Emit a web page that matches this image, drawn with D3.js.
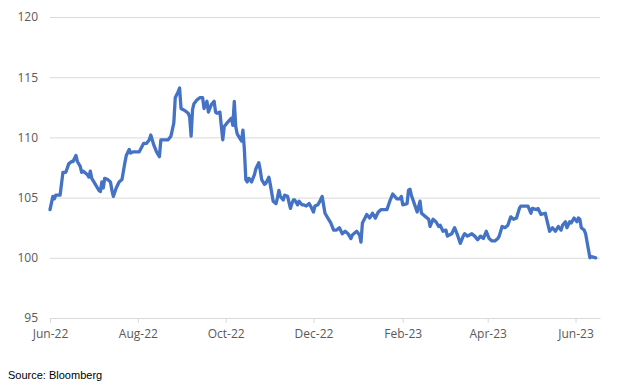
<!DOCTYPE html>
<html>
<head>
<meta charset="utf-8">
<script src="https://cdnjs.cloudflare.com/ajax/libs/d3/7.8.5/d3.min.js"></script>
<style>
  body { margin: 0; background: #fff; }
  svg { display: block; }
</style>
</head>
<body>
<svg id="chart"></svg>
<script>
// index level, daily-ish readings
const dates = [
  "2022-06-01","2022-06-03","2022-06-04","2022-06-05","2022-06-08","2022-06-10","2022-06-11","2022-06-12",
  "2022-06-14","2022-06-16","2022-06-17","2022-06-19","2022-06-20","2022-06-22","2022-06-23","2022-06-24",
  "2022-06-25","2022-06-27","2022-06-28","2022-06-29","2022-06-30","2022-07-02","2022-07-05","2022-07-06",
  "2022-07-07","2022-07-08","2022-07-09","2022-07-11","2022-07-13","2022-07-14","2022-07-15","2022-07-17",
  "2022-07-19","2022-07-21","2022-07-23","2022-07-24","2022-07-26","2022-07-27","2022-07-29","2022-07-31",
  "2022-08-02","2022-08-05","2022-08-07","2022-08-09","2022-08-10","2022-08-11","2022-08-12","2022-08-14",
  "2022-08-16","2022-08-17","2022-08-19","2022-08-22","2022-08-24","2022-08-26","2022-08-27","2022-08-29",
  "2022-08-30","2022-08-31","2022-09-03","2022-09-05","2022-09-06","2022-09-07","2022-09-08","2022-09-09",
  "2022-09-11","2022-09-13","2022-09-15","2022-09-16","2022-09-18","2022-09-19","2022-09-21","2022-09-23",
  "2022-09-24","2022-09-25","2022-09-27","2022-09-29","2022-09-30","2022-10-02","2022-10-05","2022-10-06",
  "2022-10-07","2022-10-08","2022-10-09","2022-10-11","2022-10-12","2022-10-13","2022-10-14","2022-10-15",
  "2022-10-16","2022-10-17","2022-10-18","2022-10-19","2022-10-21","2022-10-22","2022-10-24","2022-10-25",
  "2022-10-26","2022-10-28","2022-10-29","2022-10-31","2022-11-01","2022-11-03","2022-11-05","2022-11-06",
  "2022-11-07","2022-11-08","2022-11-10","2022-11-11","2022-11-13","2022-11-15","2022-11-16","2022-11-17",
  "2022-11-18","2022-11-20","2022-11-21","2022-11-23","2022-11-24","2022-11-26","2022-11-28","2022-11-29",
  "2022-12-01","2022-12-02","2022-12-04","2022-12-05","2022-12-07","2022-12-09","2022-12-11","2022-12-13",
  "2022-12-15","2022-12-17","2022-12-19","2022-12-21","2022-12-23","2022-12-25","2022-12-27","2022-12-28",
  "2022-12-31","2023-01-02","2023-01-03","2023-01-04","2023-01-07","2023-01-09","2023-01-11","2023-01-13",
  "2023-01-15","2023-01-17","2023-01-21","2023-01-23","2023-01-25","2023-01-28","2023-01-30","2023-01-31",
  "2023-02-01","2023-02-04","2023-02-05","2023-02-06","2023-02-07","2023-02-09","2023-02-11","2023-02-13",
  "2023-02-14","2023-02-17","2023-02-19","2023-02-20","2023-02-22","2023-02-24","2023-02-26","2023-02-27",
  "2023-03-01","2023-03-03","2023-03-04","2023-03-07","2023-03-09","2023-03-11","2023-03-13","2023-03-15",
  "2023-03-16","2023-03-18","2023-03-21","2023-03-23","2023-03-25","2023-03-27","2023-03-29","2023-03-31",
  "2023-04-02","2023-04-04","2023-04-06","2023-04-08","2023-04-09","2023-04-11","2023-04-13","2023-04-15",
  "2023-04-17","2023-04-19","2023-04-21","2023-04-23","2023-04-24","2023-04-28","2023-04-29","2023-05-01",
  "2023-05-02","2023-05-05","2023-05-06","2023-05-08","2023-05-11","2023-05-12","2023-05-14","2023-05-16",
  "2023-05-18","2023-05-20","2023-05-22","2023-05-23","2023-05-25","2023-05-26","2023-05-28","2023-05-29",
  "2023-05-31","2023-06-02","2023-06-03","2023-06-04","2023-06-05","2023-06-07","2023-06-08","2023-06-11",
  "2023-06-12","2023-06-15"
];
const values = [
  104.0,105.1,104.9,105.2,105.2,107.1,107.1,107.1,
  107.8,108.0,108.0,108.5,108.0,107.6,107.1,107.2,
  107.1,106.9,106.7,107.2,106.6,106.2,105.6,105.5,
  106.3,105.8,106.6,106.5,106.3,105.6,105.1,105.8,
  106.3,106.5,107.9,108.5,109.0,108.7,108.8,108.8,
  108.8,109.5,109.5,109.8,110.2,109.8,109.4,108.8,
  108.4,109.8,109.8,109.8,110.1,111.2,113.3,113.8,
  114.1,112.4,112.2,112.0,111.7,110.1,112.3,112.8,
  113.1,113.3,113.3,112.4,113.0,112.1,112.7,113.0,
  112.1,112.0,112.1,109.8,110.9,111.2,111.6,111.0,
  113.0,110.9,110.3,109.9,109.7,110.6,109.0,106.5,
  106.3,106.6,106.5,106.3,106.9,107.4,107.9,107.3,
  106.5,106.1,106.2,106.7,106.1,104.7,104.5,105.0,
  105.6,105.1,104.8,105.2,105.1,104.1,104.5,104.8,
  104.8,104.4,104.7,104.4,104.4,104.3,104.5,104.3,
  103.8,104.3,104.4,104.6,105.1,103.7,103.3,102.9,
  102.3,102.3,102.5,102.0,102.2,102.0,101.6,101.9,
  102.2,101.9,101.3,102.9,103.6,103.3,103.7,103.3,
  103.8,104.0,104.0,104.7,105.3,104.9,104.9,105.1,
  104.4,104.5,105.6,105.7,105.2,104.5,103.8,104.7,
  103.7,103.4,103.2,102.6,103.2,103.0,102.6,102.7,
  102.2,102.3,101.8,102.0,102.5,101.9,101.2,101.8,
  102.0,101.8,102.0,101.8,101.5,101.8,101.6,102.2,
  101.6,101.4,101.4,101.6,101.8,102.6,102.5,102.7,
  103.4,103.2,103.3,104.1,104.3,104.3,104.3,103.7,
  104.1,104.0,104.1,103.6,103.7,103.2,102.2,102.5,
  102.2,102.6,102.3,102.7,103.0,102.5,103.0,102.9,
  103.3,103.0,103.3,103.2,102.5,102.3,102.0,100.0,
  100.1,100.0
];
const yTicks = [95, 100, 105, 110, 115, 120];
const xTickDates = ["2022-06-01","2022-08-01","2022-10-01","2022-12-01","2023-02-01","2023-04-01","2023-06-01"];
const xDomain = ["2022-06-01", "2023-06-18"];
const sourceNote = "Source: Bloomberg";

const w = 644;
const h = 385;
const margin = { top: 17, right: 44, bottom: 67, left: 50 };
const chartW = w - margin.left - margin.right;
const chartH = h - margin.top - margin.bottom;

const parse = d3.timeParse("%Y-%m-%d");
const data = dates.map((d, i) => ({ date: parse(d), value: values[i] }));

const svg = d3.select("#chart").attr("width", w).attr("height", h);

const chart = svg.append("g")
  .attr("transform", `translate(${margin.left}, ${margin.top})`);

const xScale = d3.scaleTime()
  .domain(xDomain.map(parse))
  .range([0, chartW]);

const yScale = d3.scaleLinear()
  .domain([95, 120])
  .range([chartH, 0]);

// horizontal gridlines + y labels
const yAxis = chart.append("g")
  .call(d3.axisLeft(yScale).tickValues(yTicks).tickSize(-chartW).tickPadding(12));
yAxis.select(".domain").remove();
yAxis.selectAll(".tick line").attr("stroke", "#d9d9d9").attr("stroke-width", 1);
yAxis.selectAll(".tick text")
  .attr("fill", "#595959")
  .style("font-family", "'Open Sans', sans-serif")
  .style("font-size", "12px");

// x axis
const xAxis = chart.append("g")
  .attr("transform", `translate(0, ${chartH})`)
  .call(d3.axisBottom(xScale)
    .tickValues(xTickDates.map(parse))
    .tickFormat(d3.timeFormat("%b-%y"))
    .tickSizeInner(5)
    .tickSizeOuter(0)
    .tickPadding(6));
xAxis.select(".domain").attr("stroke", "#d9d9d9");
xAxis.selectAll(".tick line").attr("stroke", "#d9d9d9");
xAxis.selectAll(".tick text")
  .attr("fill", "#595959")
  .style("font-family", "'Open Sans', sans-serif")
  .style("font-size", "12px");

// the line
const line = d3.line()
  .x(d => xScale(d.date))
  .y(d => yScale(d.value));

chart.append("path")
  .datum(data)
  .attr("fill", "none")
  .attr("stroke", "#4472c4")
  .attr("stroke-width", 3.3)
  .attr("stroke-linejoin", "round")
  .attr("stroke-linecap", "round")
  .attr("d", line);

// source
svg.append("text")
  .attr("x", 8)
  .attr("y", 379)
  .attr("fill", "#000")
  .style("font-family", "'Liberation Sans', Arial, sans-serif")
  .style("font-size", "11px")
  .text(sourceNote);
</script>
</body>
</html>
